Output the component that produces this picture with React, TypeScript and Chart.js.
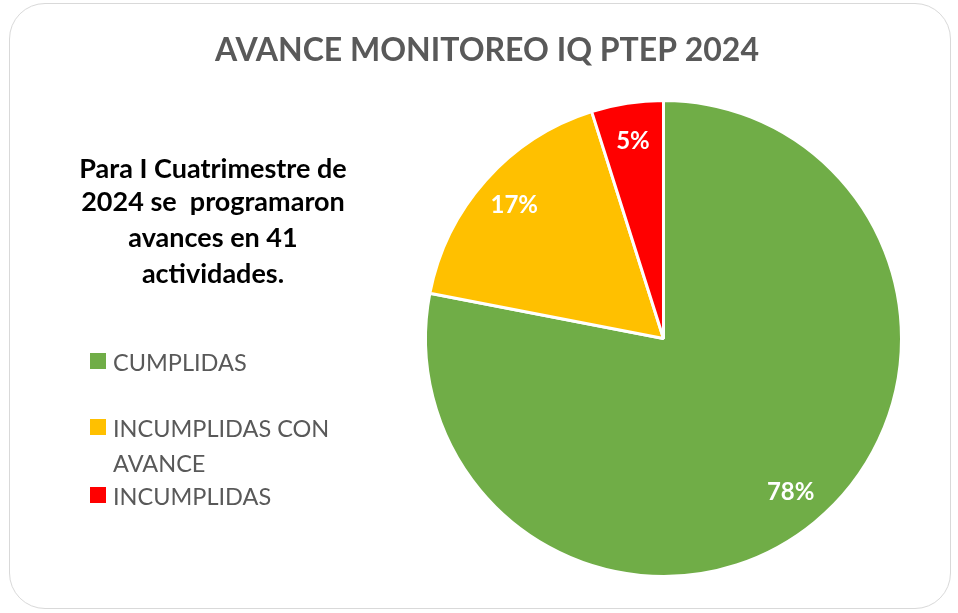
import React, { useEffect, useRef } from "react";
import { Chart, registerables } from "chart.js";

Chart.register(...registerables);

const TITLE = "AVANCE MONITOREO IQ PTEP 2024";
const NOTE_LINES = ["Para I Cuatrimestre de", "2024 se  programaron", "avances en 41", "actividades."];
const CATEGORIES = ["CUMPLIDAS", "INCUMPLIDAS CON AVANCE", "INCUMPLIDAS"];
const LEGEND_LINES = [["CUMPLIDAS"], ["INCUMPLIDAS CON", "AVANCE"], ["INCUMPLIDAS"]];
const ACTIVITIES = [32, 7, 2];
const PERCENT_LABELS = ["78%", "17%", "5%"];
const COLORS = ["#70AD47", "#FFC000", "#FF0000"];

const FONT = "Lato, 'Open Sans', sans-serif";

const decorPlugin = {
  id: "decor",
  afterDraw(chart: any) {
    const ctx = chart.ctx as CanvasRenderingContext2D;
    ctx.save();
    // title
    ctx.fillStyle = "#595959";
    ctx.font = `bold 32px ${FONT}`;
    ctx.textAlign = "center";
    ctx.textBaseline = "alphabetic";
    ctx.fillText(TITLE, 487, 61);

    // note
    ctx.fillStyle = "#000000";
    ctx.font = `bold 27px ${FONT}`;
    const noteBase = [178, 211, 247, 283];
    NOTE_LINES.forEach((t, i) => ctx.fillText(t, 213, noteBase[i]));

    // legend
    ctx.textAlign = "left";
    ctx.font = `23.5px ${FONT}`;
    const legendBase = [[371], [437, 472], [505]];
    LEGEND_LINES.forEach((lines, i) => {
      ctx.fillStyle = COLORS[i];
      ctx.fillRect(90, legendBase[i][0] - 18, 16, 16);
      ctx.fillStyle = "#595959";
      lines.forEach((l, j) => ctx.fillText(l, 113, legendBase[i][j]));
    });

    // slice labels
    const meta = chart.getDatasetMeta(0);
    ctx.fillStyle = "#FFFFFF";
    ctx.font = `bold 24px ${FONT}`;
    ctx.textAlign = "center";
    ctx.textBaseline = "middle";
    meta.data.forEach((arc: any, i: number) => {
      const { x, y, startAngle, endAngle, outerRadius } = arc.getProps(
        ["x", "y", "startAngle", "endAngle", "outerRadius"],
        true
      );
      const mid = (startAngle + endAngle) / 2;
      const r = outerRadius * 0.84;
      ctx.fillText(PERCENT_LABELS[i], x + Math.cos(mid) * r, y + Math.sin(mid) * r);
    });
    ctx.restore();
  },
};

export default function App() {
  const ref = useRef<HTMLCanvasElement>(null);
  useEffect(() => {
    document.body.style.margin = "0";
    const chart = new Chart(ref.current!, {
      type: "pie",
      data: {
        labels: CATEGORIES,
        datasets: [
          {
            data: ACTIVITIES,
            backgroundColor: COLORS,
            borderColor: "#FFFFFF",
            borderWidth: 3,
            hoverOffset: 0,
          },
        ],
      },
      options: {
        animation: false,
        responsive: false,
        layout: { padding: { left: 424, right: 55, top: 99, bottom: 35 } },
        plugins: {
          legend: { display: false },
          title: { display: false },
          tooltip: { enabled: false },
        },
      },
      plugins: [decorPlugin],
    });
    return () => chart.destroy();
  }, []);
  return (
    <div
      style={{
        position: "fixed",
        left: 0,
        top: 0,
        width: 958,
        height: 613,
        background: "#fff",
        overflow: "hidden",
      }}
    >
      <div
        style={{
          position: "absolute",
          left: 9,
          top: 3,
          width: 942,
          height: 606,
          border: "1.5px solid #D9D9D9",
          borderRadius: 36,
          boxSizing: "border-box",
        }}
      />
      <canvas ref={ref} width={958} height={613} style={{ position: "absolute", left: 0, top: 0 }} />
    </div>
  );
}
